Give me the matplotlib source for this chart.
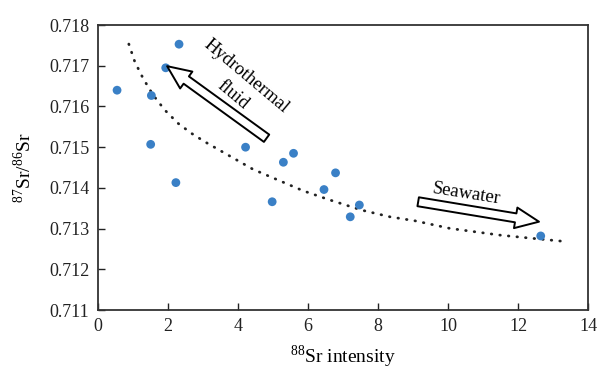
import matplotlib
matplotlib.use("Agg")
import matplotlib.pyplot as plt

plt.rcParams['font.family'] = ['Liberation Serif', 'DejaVu Serif']
plt.rcParams['mathtext.fontset'] = 'custom'
plt.rcParams['mathtext.rm'] = 'Liberation Serif'

# Measured points
sr88 = [0.55, 2.32, 1.94, 1.53, 1.51, 2.23, 4.22, 5.30, 5.59, 4.98, 6.46, 6.79, 7.47, 7.21, 12.65]
sr_ratio = [0.71640, 0.71753, 0.71695, 0.71627, 0.71507, 0.71413, 0.71500, 0.71463,
            0.71485, 0.71366, 0.71396, 0.71437, 0.71358, 0.71329, 0.71282]

# Trend curve
trend_x = [0.886, 1.057, 1.294, 1.580, 1.914, 2.294, 2.677, 3.057, 4.437, 5.151, 5.866,
           6.580, 7.534, 8.343, 9.057, 10.057, 11.486, 12.437, 13.437]
trend_y = [0.717533, 0.717098, 0.716690, 0.716280, 0.715912, 0.715585, 0.715339, 0.715133,
           0.714455, 0.714192, 0.713929, 0.713717, 0.713455, 0.713290, 0.713192, 0.713005,
           0.712840, 0.712759, 0.712676]

xticks = [0, 2, 4, 6, 8, 10, 12, 14]
yticks = [0.711, 0.712, 0.713, 0.714, 0.715, 0.716, 0.717, 0.718]

fig = plt.figure(figsize=(6.0, 3.74), dpi=100)
ax = fig.add_axes([0.163, 0.171, 0.817, 0.762])

ax.plot(trend_x, trend_y, color='#222222', lw=2.0, linestyle=(0, (0.2, 2.9)),
        dash_capstyle='round', zorder=2)
ax.scatter(sr88, sr_ratio, s=40, color='#3a80c6', edgecolors='none', zorder=3)

arrow_style = 'simple,tail_width=0.65,head_width=1.5,head_length=1.7'
ax.annotate('', xy=(1.98, 0.71699), xytext=(4.82, 0.71522),
            arrowprops=dict(arrowstyle=arrow_style, fc='white', ec='black', lw=1.4,
                            shrinkA=0, shrinkB=0, mutation_scale=10))
ax.annotate('', xy=(12.60, 0.71317), xytext=(9.15, 0.71366),
            arrowprops=dict(arrowstyle=arrow_style, fc='white', ec='black', lw=1.4,
                            shrinkA=0, shrinkB=0, mutation_scale=10))

ax.text(4.25, 0.71673, 'Hydrothermal', rotation=-40, ha='center', va='center',
        fontsize=13.5, rotation_mode='anchor')
ax.text(3.87, 0.71628, 'fluid', rotation=-40, ha='center', va='center',
        fontsize=13.5, rotation_mode='anchor')
ax.text(10.53, 0.71386, 'Seawater', rotation=-9, ha='center', va='center',
        fontsize=13.5, rotation_mode='anchor')

ax.set_xlim(0, 14)
ax.set_ylim(0.711, 0.718)
ax.set_xticks(xticks)
ax.set_xticklabels([str(t) for t in xticks])
ax.set_yticks(yticks)
ax.set_yticklabels(['%.3f' % t for t in yticks])
ax.tick_params(direction='in', length=5, width=1, labelsize=13, colors='#222222', pad=6)
for sp in ax.spines.values():
    sp.set_color('#333333')
    sp.set_linewidth(1.3)

ax.set_xlabel('$^{88}$Sr intensity', fontsize=14, labelpad=6)
ax.set_ylabel('$^{87}$Sr/$^{86}$Sr', fontsize=14, labelpad=10)

fig.savefig('out.png', dpi=100)
